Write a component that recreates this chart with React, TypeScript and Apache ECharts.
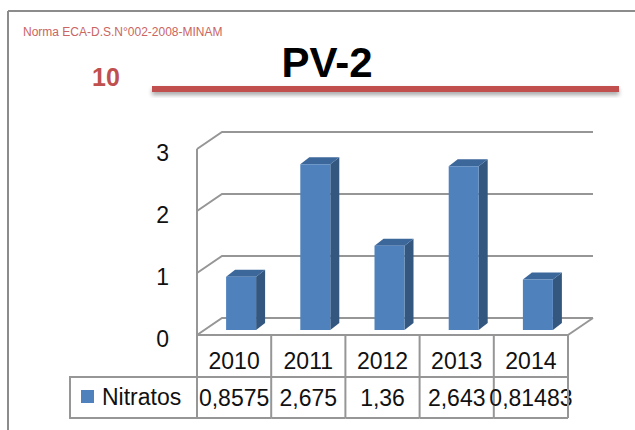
import React, { useEffect, useRef } from 'react';
import * as echarts from 'echarts';

// ---- data ----
const categories = ['2010', '2011', '2012', '2013', '2014'];
const nitratos = [0.8575, 2.675, 1.36, 2.643, 0.81483];
const yTicks = [0, 1, 2, 3];
const seriesName = 'Nitratos';
const chartTitle = 'PV-2';
const normaLabel = 'Norma ECA-D.S.N°002-2008-MINAM';
const normaValue = '10';

// ---- styles ----
const FONT = '"Liberation Sans", Arial, sans-serif';
const LINE = '#969696';
const RED = '#c0504d';
const TXT = '#111111';
const DX = 25; // depth offset of the walls
const DY = -17;
const BAR_DX = 7; // bar plane offset
const BAR_DY = -5;
const BW = 30;
const SD_X = 9;
const SD_Y = -7;
const ROW1 = 42;
const ROW2 = 83;
const LEG_W = 127;

export default function App() {
  const ref = useRef<HTMLDivElement>(null);
  useEffect(() => {
    if (!ref.current) return;
    const chart = echarts.init(ref.current, null, { renderer: 'svg' });
    const fmt = (v: number) => String(v).replace('.', ',');

    const option: any = {
      animation: false,
      backgroundColor: '#ffffff',
      grid: { left: 197, right: 67, top: 149, bottom: 95 },
      xAxis: {
        type: 'category',
        data: categories,
        show: false,
      },
      yAxis: {
        type: 'value',
        min: 0,
        max: 3,
        interval: 1,
        axisLine: { show: false },
        axisTick: { show: false },
        splitLine: { show: false },
        axisLabel: { show: false },
      },
      graphic: [
        { type: 'line', shape: { x1: 8, y1: 11, x2: 640, y2: 11 }, style: { stroke: '#8c8c8c', lineWidth: 2 } },
        { type: 'line', shape: { x1: 8, y1: 11, x2: 8, y2: 440 }, style: { stroke: '#8c8c8c', lineWidth: 2 } },
        {
          type: 'text', x: 23, y: 32,
          style: { text: normaLabel, font: `12px ${FONT}`, fill: '#c96562', textVerticalAlign: 'middle' },
        },
        {
          type: 'text', x: 106, y: 77,
          style: { text: normaValue, font: `bold 25px ${FONT}`, fill: RED, textAlign: 'center', textVerticalAlign: 'middle' },
        },
        {
          type: 'text', x: 327, y: 62,
          style: { text: chartTitle, font: `bold 42px ${FONT}`, fill: '#000000', textAlign: 'center', textVerticalAlign: 'middle' },
        },
        {
          type: 'rect', shape: { x: 152, y: 86, width: 467, height: 6 },
          style: { fill: RED, shadowBlur: 4, shadowOffsetY: 3, shadowColor: 'rgba(0,0,0,0.35)' },
        },
      ],
      series: [
        {
          type: 'custom',
          name: 'walls',
          z: 1,
          silent: true,
          data: yTicks.map((v) => [0, v]),
          renderItem: (params: any, api: any) => {
            const cs = params.coordSys;
            const x0 = cs.x;
            const x1 = cs.x + cs.width;
            const tick = api.value(1);
            const y = api.coord([0, tick])[1];
            const children: any[] = [
              {
                type: 'polyline',
                shape: { points: [[x0, y], [x0 + DX, y + DY], [x1 + DX, y + DY]] },
                style: { stroke: LINE, lineWidth: 2, fill: null },
              },
              {
                type: 'text', x: x0 - 28, y: y + 4,
                style: { text: String(tick), font: `23px ${FONT}`, fill: TXT, textAlign: 'right', textVerticalAlign: 'middle' },
              },
            ];
            if (params.dataIndex === 0) {
              const yb = y;
              const yt = cs.y;
              children.push(
                { type: 'line', shape: { x1: x0, y1: yt, x2: x0, y2: yb }, style: { stroke: LINE, lineWidth: 2 } },
                { type: 'line', shape: { x1: x0, y1: yb, x2: x1, y2: yb }, style: { stroke: LINE, lineWidth: 2 } },
                { type: 'line', shape: { x1: x1, y1: yb, x2: x1 + DX, y2: yb + DY }, style: { stroke: LINE, lineWidth: 2 } }
              );
            }
            return { type: 'group', children };
          },
        },
        {
          type: 'custom',
          name: 'table',
          z: 2,
          silent: true,
          data: nitratos.map((v, i) => [i, v]),
          renderItem: (params: any, api: any) => {
            const idx = api.value(0);
            const v = api.value(1);
            const c = api.coord([idx, 0]);
            const band = api.size([1, 0])[0];
            const l = c[0] - band / 2;
            const r = c[0] + band / 2;
            const yTop = c[1];
            const yMid = yTop + ROW1;
            const yBot = yTop + ROW2;
            const ls = { stroke: LINE, lineWidth: 2 };
            const children: any[] = [
              { type: 'line', shape: { x1: l, y1: yTop, x2: l, y2: yBot }, style: ls },
              { type: 'line', shape: { x1: l, y1: yMid, x2: r, y2: yMid }, style: ls },
              { type: 'line', shape: { x1: l, y1: yBot, x2: r, y2: yBot }, style: ls },
              {
                type: 'text', x: c[0], y: yTop + 26,
                style: { text: categories[idx], font: `23px ${FONT}`, fill: TXT, textAlign: 'center', textVerticalAlign: 'middle' },
              },
              {
                type: 'text', x: c[0], y: yMid + 21,
                style: { text: fmt(v), font: `23px ${FONT}`, fill: TXT, textAlign: 'center', textVerticalAlign: 'middle' },
              },
            ];
            if (idx === categories.length - 1) {
              children.push({ type: 'line', shape: { x1: r, y1: yTop, x2: r, y2: yBot }, style: ls });
            }
            if (idx === 0) {
              const lx = l - LEG_W;
              children.push(
                { type: 'rect', shape: { x: lx, y: yMid, width: LEG_W, height: ROW2 - ROW1 }, style: { stroke: LINE, lineWidth: 2, fill: null } },
                { type: 'rect', shape: { x: lx + 11, y: yMid + 13, width: 13, height: 13 }, style: { fill: '#4f81bd' } },
                {
                  type: 'text', x: lx + 32, y: yMid + 20,
                  style: { text: seriesName, font: `23px ${FONT}`, fill: TXT, textAlign: 'left', textVerticalAlign: 'middle' },
                }
              );
            }
            return { type: 'group', children };
          },
        },
        {
          type: 'custom',
          name: seriesName,
          z: 3,
          data: nitratos.map((v, i) => [i, v]),
          renderItem: (params: any, api: any) => {
            const idx = api.value(0);
            const v = api.value(1);
            const top = api.coord([idx, v]);
            const base = api.coord([idx, 0]);
            const cx = top[0] + BAR_DX;
            const yt = top[1] + BAR_DY;
            const yb = base[1] + BAR_DY;
            const l = cx - BW / 2;
            const r = cx + BW / 2;
            return {
              type: 'group',
              children: [
                {
                  type: 'polygon',
                  shape: { points: [[r, yt], [r + SD_X, yt + SD_Y], [r + SD_X, yb + SD_Y], [r, yb]] },
                  style: { fill: '#34577f' },
                },
                {
                  type: 'polygon',
                  shape: { points: [[l, yt], [l + SD_X, yt + SD_Y], [r + SD_X, yt + SD_Y], [r, yt]] },
                  style: { fill: '#3c679b' },
                },
                {
                  type: 'rect',
                  shape: { x: l, y: yt, width: BW, height: yb - yt },
                  style: { fill: '#4f81bd' },
                },
              ],
            };
          },
        },
      ],
    };
    chart.setOption(option);
    return () => chart.dispose();
  }, []);

  return (
    <div
      ref={ref}
      style={{ position: 'fixed', left: 0, top: 0, width: 635, height: 430, background: '#fff' }}
    />
  );
}
